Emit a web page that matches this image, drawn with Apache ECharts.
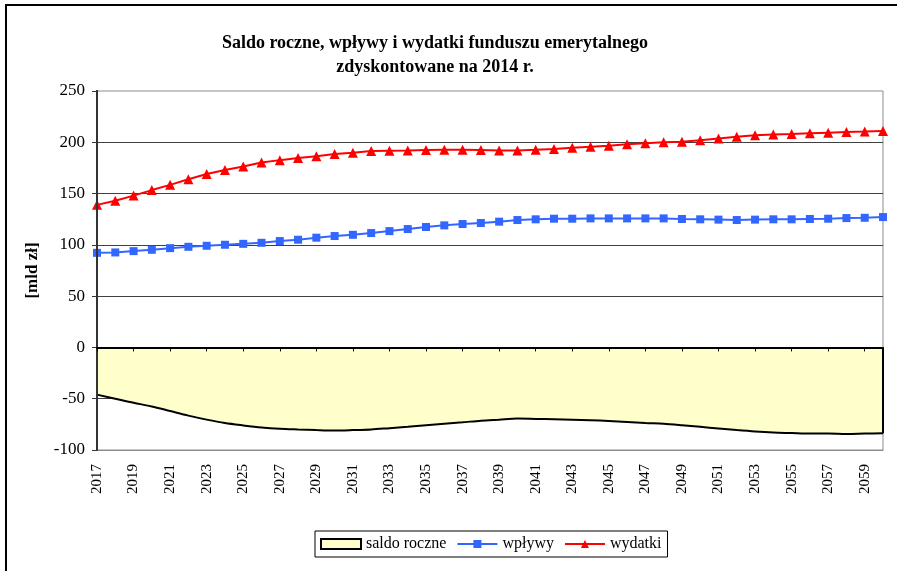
<!DOCTYPE html>
<html>
<head>
<meta charset="utf-8">
<script src="https://cdn.jsdelivr.net/npm/echarts@6/dist/echarts.min.js"></script>
<style>
  html, body { margin: 0; padding: 0; background: #fff; overflow: hidden; }
  #frame {
    position: absolute; left: 5px; top: 4px; width: 1000px; height: 1000px;
    border: 2px solid #000; box-sizing: border-box;
  }
  #chart { position: absolute; left: 0; top: 0; width: 897px; height: 571px; }
</style>
</head>
<body>
<div id="frame"></div>
<div id="chart"></div>
<script>
// lata 2017-2060
const years = [];
for (let y = 2017; y <= 2060; y++) years.push(String(y));

// saldo roczne [mld zł]
const saldo = [
  -46, -50, -54, -57.5, -62, -66.5, -70.4, -73.7, -76, -78,
  -79.3, -80, -80.6, -81, -80.6, -80, -78.7, -77.4, -75.8, -74.4,
  -73, -71.4, -70.4, -69.4, -69.7, -70, -70.4, -71, -71.7, -72.7,
  -73.7, -74.4, -75.8, -77.4, -79, -80.6, -82, -83, -83.5, -84,
  -84, -84.4, -84, -83.7
];

// wpływy [mld zł]
const wplywy = [
  92.2, 92.6, 93.9, 95.2, 96.8, 98.1, 99.1, 100.1, 101, 102,
  103.7, 105, 107, 108.6, 109.8, 111.5, 113.4, 115.4, 117.4, 119,
  120.3, 121.3, 122.6, 124.2, 124.9, 125.5, 125.5, 125.8, 125.8, 125.8,
  125.8, 125.8, 125.2, 124.9, 124.6, 124.2, 124.6, 124.9, 124.9, 125.2,
  125.5, 126.1, 126.4, 127.1
];

// wydatki [mld zł]
const wydatki = [
  139, 143, 148, 153.4, 158.5, 164, 169, 173, 176.4, 180.3,
  182.6, 184.6, 186.5, 188.5, 189.8, 191.5, 191.8, 192.1, 192.5, 192.8,
  192.8, 192.6, 192.1, 192.1, 192.7, 193.4, 194.7, 195.7, 196.7, 198,
  199, 200, 200.6, 202, 203.8, 205.5, 206.8, 207.5, 208, 208.7,
  209.4, 210, 210.4, 211
];

const yTicks = { min: -100, max: 250, interval: 50 };

const serif = '"Liberation Serif", "Times New Roman", serif';
const chart = echarts.init(document.getElementById('chart'));

chart.setOption({
  animation: false,
  textStyle: { fontFamily: serif, color: '#000' },
  title: {
    text: 'Saldo roczne, wpływy i wydatki funduszu emerytalnego\nzdyskontowane na 2014 r.',
    left: 430,
    top: 26,
    textAlign: 'center',
    textStyle: { fontFamily: serif, fontSize: 18, fontWeight: 'bold', lineHeight: 24, color: '#000' }
  },
  legend: {
    left: 315,
    top: 531,
    width: 352,
    itemGap: 10,
    itemWidth: 40,
    itemHeight: 10,
    padding: [5, 6, 5, 5],
    borderColor: '#000',
    borderWidth: 1,
    textStyle: { fontFamily: serif, fontSize: 16, color: '#000' },
    data: [
      { name: 'saldo roczne', icon: 'rect', itemStyle: { color: '#FFFFCC', borderColor: '#000', borderWidth: 2 } },
      { name: 'wpływy' },
      { name: 'wydatki' }
    ]
  },
  grid: {
    left: 97, right: 14, top: 91, bottom: 121,
    show: true, borderColor: '#8c8c8c', borderWidth: 1, backgroundColor: '#fff'
  },
  xAxis: [
    {
      type: 'category',
      data: years,
      position: 'bottom',
      boundaryGap: false,
      axisLine: { onZero: false, lineStyle: { color: '#8c8c8c', width: 1 } },
      axisTick: { show: false },
      axisLabel: { interval: 1, rotate: 90, margin: 14, fontSize: 15, fontFamily: serif, color: '#000' },
      splitLine: { show: false }
    },
    {
      type: 'category',
      data: years,
      position: 'bottom',
      boundaryGap: false,
      z: 10,
      axisLine: { onZero: true, lineStyle: { color: '#000', width: 2 } },
      axisTick: { show: true, length: 4, lineStyle: { color: '#000', width: 1 } },
      axisLabel: { show: false },
      splitLine: { show: false }
    }
  ],
  yAxis: [
    {
      type: 'value',
      position: 'left',
      min: yTicks.min,
      max: yTicks.max,
      interval: yTicks.interval,
      name: '[mld zł]',
      nameLocation: 'middle',
      nameGap: 56,
      nameTextStyle: { fontFamily: serif, fontSize: 17, fontWeight: 'bold', color: '#000' },
      axisLine: { show: true, lineStyle: { color: '#333', width: 2 } },
      axisTick: { show: true, length: 5, lineStyle: { color: '#333' } },
      axisLabel: { fontSize: 17, fontFamily: serif, color: '#000', margin: 12 },
      splitLine: { show: true, showMaxLine: false, showMinLine: false, lineStyle: { color: '#404040', width: 1 } }
    },
    {
      // sama linia osi nad wypełnieniem
      type: 'value',
      position: 'left',
      min: yTicks.min,
      max: yTicks.max,
      interval: yTicks.interval,
      z: 10,
      axisLine: { show: true, onZero: false, lineStyle: { color: '#333', width: 2 } },
      axisTick: { show: false },
      axisLabel: { show: false },
      splitLine: { show: false }
    }
  ],
  series: [
    {
      name: 'saldo roczne',
      type: 'line',
      data: saldo,
      smooth: 0.3,
      symbol: 'none',
      lineStyle: { color: '#000', width: 2 },
      itemStyle: { color: '#FFFFCC', borderColor: '#000' },
      areaStyle: { color: '#FFFFCC', opacity: 1 },
      markLine: {
        silent: true,
        symbol: 'none',
        label: { show: false },
        lineStyle: { color: '#000', width: 2, type: 'solid' },
        data: [[
          { coord: [years[years.length - 1], 0] },
          { coord: [years[years.length - 1], saldo[saldo.length - 1]] }
        ]]
      },
      z: 1
    },
    {
      name: 'wpływy',
      type: 'line',
      data: wplywy,
      symbol: 'rect',
      symbolSize: 8,
      lineStyle: { color: '#3366FF', width: 2 },
      itemStyle: { color: '#3366FF' },
      z: 3
    },
    {
      name: 'wydatki',
      type: 'line',
      data: wydatki,
      symbol: 'triangle',
      symbolSize: 10,
      lineStyle: { color: '#FF0000', width: 2 },
      itemStyle: { color: '#FF0000' },
      z: 4
    }
  ]
});
</script>
</body>
</html>
